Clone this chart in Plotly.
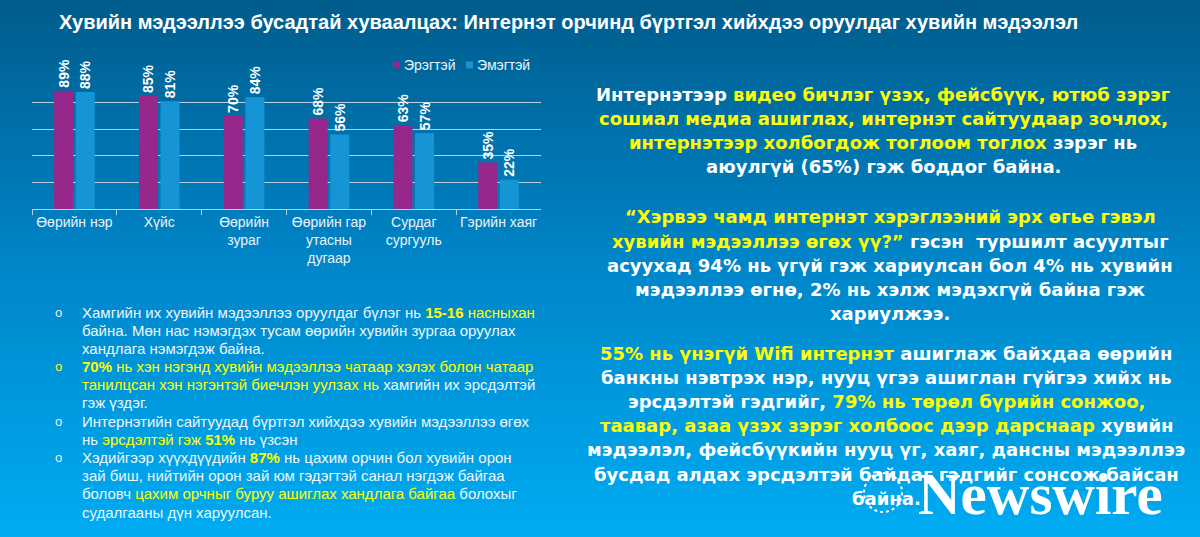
import plotly.graph_objects as go

W, H = 1200, 537

# chart data
categories = ["Өөрийн нэр", "Хүйс", "Өөрийн<br>зураг", "Өөрийн гар<br>утасны<br>дугаар",
              "Сурдаг<br>сургууль", "Гэрийн хаяг"]
male = [89, 85, 70, 68, 63, 35]
female = [88, 81, 84, 56, 57, 22]
series_names = ["Эрэгтэй", "Эмэгтэй"]

title = ("Хувийн мэдээллээ бусадтай хуваалцах: Интернэт орчинд бүртгэл "
         "хийхдээ оруулдаг хувийн мэдээлэл")

YEL = "#ffff00"
MAGENTA = "#95288a"
BLUE = "#1594d6"


def hl(s):
    return f"<span style='color:{YEL}'>{s}</span>"


# left bullet list, one list of lines per bullet
bullets = [
    ["Хамгийн их хувийн мэдээллээ оруулдаг бүлэг нь " + hl("<b>15-16</b> насныхан"),
     "байна. Мөн нас нэмэгдэх тусам өөрийн хувийн зургаа оруулах",
     "хандлага нэмэгдэж байна."],
    [hl("<b>70%</b> нь хэн нэгэнд хувийн мэдээллээ чатаар хэлэх болон чатаар"),
     hl("танилцсан хэн нэгэнтэй биечлэн уулзах нь") + " хамгийн их эрсдэлтэй",
     "гэж үздэг."],
    ["Интернэтийн сайтуудад бүртгэл хийхдээ хувийн мэдээллээ өгөх",
     "нь " + hl("эрсдэлтэй гэж <b>51%</b>") + " нь үзсэн"],
    ["Хэдийгээр хүүхдүүдийн " + hl("<b>87%</b>") + " нь цахим орчин бол хувийн орон",
     "зай биш, нийтийн орон зай юм гэдэгтэй санал нэгдэж байгаа",
     "боловч " + hl("цахим орчныг буруу ашиглах хандлага байгаа") + " болохыг",
     "судалгааны дүн харуулсан."],
]
bullet_colors = ["#e8f2fa", YEL, "#e8f2fa", "#e8f2fa"]

# right side paragraphs
paragraphs = [
    ["Интернэтээр " + hl("видео бичлэг үзэх, фейсбүүк, ютюб зэрэг"),
     hl("сошиал медиа ашиглах, интернэт сайтуудаар зочлох,"),
     hl("интернэтээр холбогдож тоглоом тоглох") + " зэрэг нь",
     "аюулгүй (65%) гэж боддог байна."],
    [hl("“Хэрвээ чамд интернэт хэрэглээний эрх өгье гэвэл"),
     hl("хувийн мэдээллээ өгөх үү?”") + " гэсэн  туршилт асуултыг",
     "асуухад 94% нь үгүй гэж хариулсан бол 4% нь хувийн",
     "мэдээллээ өгнө, 2% нь хэлж мэдэхгүй байна гэж",
     "хариулжээ."],
    [hl("55% нь үнэгүй Wifi интернэт") + " ашиглаж байхдаа өөрийн",
     "банкны нэвтрэх нэр, нууц үгээ ашиглан гүйгээ хийх нь",
     "эрсдэлтэй гэдгийг, " + hl("79% нь төрөл бүрийн сонжоо,"),
     hl("таавар, азаа үзэх зэрэг холбоос дээр дарснаар") + " хувийн",
     "мэдээлэл, фейсбүүкийн нууц үг, хаяг, дансны мэдээллээ",
     "бусдад алдах эрсдэлтэй байдаг гэдгийг сонсож байсан",
     "байна."],
]


def px(x):
    return x / W


def py(y):
    return 1 - y / H


def note(text, x, y, size, color, family="Liberation Sans", xanchor="left"):
    return dict(text=text, x=px(x), y=py(y), xref="paper", yref="paper",
                xanchor=xanchor, yanchor="middle", showarrow=False,
                font=dict(family=family, size=size, color=color))


fig = go.Figure()

fig.add_trace(go.Bar(x=categories, y=male, name=series_names[0],
                     marker_color=MAGENTA, marker_line_width=0))
fig.add_trace(go.Bar(x=categories, y=female, name=series_names[1],
                     marker_color=BLUE, marker_line_width=0))

fig.update_traces(
    texttemplate="%{y}%",
    textposition="outside",
    textangle=-90,
    constraintext="none",
    cliponaxis=False,
    textfont=dict(family="Liberation Sans", size=14, color="white", weight="bold"),
    hoverinfo="skip",
)

# background gradient (dark blue at top to light blue at bottom)
stops = [(0.0, (0, 92, 140)), (0.5, (0, 134, 202)), (1.0, (0, 172, 242))]
shapes = []
n_bands = 90
for i in range(n_bands):
    t = (i + 0.5) / n_bands
    for j in range(len(stops) - 1):
        if stops[j][0] <= t <= stops[j + 1][0]:
            f = (t - stops[j][0]) / (stops[j + 1][0] - stops[j][0])
            c = [round(a + (b - a) * f) for a, b in zip(stops[j][1], stops[j + 1][1])]
            break
    shapes.append(dict(type="rect", xref="paper", yref="paper", layer="below",
                       x0=-0.01, x1=1.01, y0=1 - (i + 1.05) / n_bands, y1=1 - i / n_bands,
                       fillcolor=f"rgb({c[0]},{c[1]},{c[2]})", line_width=0))

# legend swatches
for x0, col in [(393, MAGENTA), (466, BLUE)]:
    shapes.append(dict(type="rect", xref="paper", yref="paper",
                       x0=px(x0), x1=px(x0 + 7), y0=py(68.5), y1=py(61.5),
                       fillcolor=col, line_width=0))

# watermark globe
shapes.append(dict(type="circle", xref="paper", yref="paper",
                   x0=px(864), x1=px(902), y0=py(512), y1=py(473),
                   line=dict(color="white", width=2, dash="dot")))

annotations = [note(f"<b>{title}</b>", 57, 22, 20, "white")]

for x0, name in [(402, series_names[0]), (475, series_names[1])]:
    annotations.append(note(name, x0, 65, 14, "#e8f2fa"))

# bullets
line_y = 312
line_step = 18.2
for lines, bcol in zip(bullets, bullet_colors):
    annotations.append(note("o", 53, line_y, 13, bcol))
    for ln in lines:
        annotations.append(note(ln, 80, line_y, 15, "#eef6fc"))
        line_y += line_step

# right paragraphs
para_top = [94, 217, 353]
para_cx = [883, 890, 886]
para_step = 24.2
for lines, top, cx in zip(paragraphs, para_top, para_cx):
    for k, ln in enumerate(lines):
        annotations.append(note(f"<b>{ln}</b>", cx, top + k * para_step, 18, "white",
                                family="DejaVu Sans", xanchor="center"))

annotations.append(note("<b>Newswire</b>", 916, 494, 59, "white", family="Liberation Serif"))

fig.update_layout(
    width=W, height=H,
    margin=dict(l=0, r=0, t=0, b=0, autoexpand=False),
    paper_bgcolor="rgb(0,134,202)",
    plot_bgcolor="rgba(0,0,0,0)",
    showlegend=False,
    barmode="group",
    bargap=0.49,
    bargroupgap=0.12,
    shapes=shapes,
    annotations=annotations,
    xaxis=dict(domain=[px(32), px(541)], showline=True, linecolor="#b9d0e2",
               linewidth=1, ticks="outside", tickson="boundaries", ticklen=5,
               tickcolor="#b9d0e2", showgrid=False, fixedrange=True,
               tickangle=0, automargin=False,
               tickfont=dict(family="Liberation Sans", size=14, color="#e8f2fa")),
    yaxis=dict(domain=[py(209), py(76)], range=[0, 100], dtick=20,
               showticklabels=False, showgrid=True, gridcolor="#b9d0e2",
               gridwidth=1, zeroline=False, fixedrange=True, automargin=False),
)

fig.write_html("out.html", config={"displayModeBar": False},
               post_script="document.body.style.margin='0';")
